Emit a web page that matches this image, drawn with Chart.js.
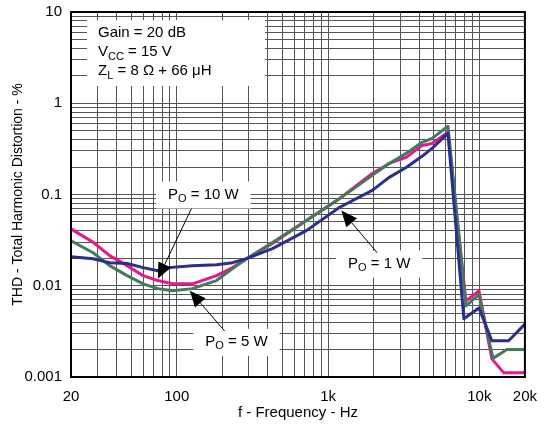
<!DOCTYPE html>
<html>
<head>
<meta charset="utf-8">
<script src="https://cdn.jsdelivr.net/npm/chart.js@4/dist/chart.umd.min.js"></script>
<style>
  html, body { margin: 0; padding: 0; background: #fff; }
  #wrap { width: 548px; height: 430px; }
</style>
</head>
<body>
<div id="wrap"><canvas id="thd"></canvas></div>
<script>
const FONT = '"Liberation Sans", Arial, Helvetica, sans-serif';

// THD (%) vs frequency (Hz), one pair of arrays per output power
const freq10W = [20, 28, 36, 47, 60, 75, 94, 127, 183, 234, 289, 429, 719, 1187, 1959, 2535, 3281, 4181, 4866, 6200, 8150, 9930, 12100, 14500, 20000];
const thd10W  = [0.042, 0.030, 0.0214, 0.0166, 0.0129, 0.0114, 0.0105, 0.0105, 0.0129, 0.0158, 0.0198, 0.029, 0.052, 0.090, 0.170, 0.219, 0.255, 0.345, 0.363, 0.48, 0.0068, 0.0088, 0.00158, 0.00111, 0.00111];

const freq5W = [20, 28, 36, 47, 60, 75, 94, 127, 183, 234, 289, 429, 719, 1187, 1959, 2535, 3281, 4181, 4866, 6200, 8150, 9930, 12300, 15200, 20000];
const thd5W  = [0.031, 0.023, 0.0166, 0.0129, 0.0105, 0.0093, 0.0088, 0.0093, 0.0114, 0.0154, 0.0198, 0.0297, 0.052, 0.090, 0.162, 0.219, 0.282, 0.373, 0.412, 0.56, 0.0060, 0.0080, 0.0016, 0.0020, 0.0020];

const freq1W = [20, 28, 36, 47, 60, 75, 88, 127, 183, 234, 289, 429, 719, 1187, 1959, 2535, 3281, 4181, 4866, 6200, 7900, 9930, 12100, 15600, 20000];
const thd1W  = [0.0208, 0.0198, 0.0179, 0.0175, 0.0158, 0.0146, 0.0158, 0.0166, 0.0170, 0.0179, 0.0198, 0.0255, 0.0402, 0.072, 0.111, 0.154, 0.198, 0.262, 0.32, 0.468, 0.00434, 0.0057, 0.0025, 0.0025, 0.0038];

const xLabelValues = [20, 100, 1000, 10000, 20000];
const xLabelText   = ['20', '100', '1k', '10k', '20k'];
const yLabelValues = [0.001, 0.01, 0.1, 1, 10];
const yLabelText   = ['0.001', '0.01', '0.1', '1', '10'];

// callouts: label position, arrow start and arrow tip, all in (Hz, %)
const callouts = [
  { power: '10 W', at: [150, 0.1],     from: [125, 0.070],  to: [75, 0.0119] },
  { power: '5 W',  at: [248, 0.00243], from: [207, 0.0032], to: [122, 0.0088] },
  { power: '1 W',  at: [2178, 0.0175], from: [2113, 0.023], to: [1223, 0.0667] }
];

const PINK = '#E8158C', GREEN = '#437A5C', BLUE = '#2A2E8C';

function points(xs, ys) {
  return xs.map((f, i) => ({ x: f, y: ys[i] }));
}

// 1..9 x 10^n grid values between min and max
function logGrid(min, max) {
  const out = [];
  for (let e = Math.floor(Math.log10(min)); e <= Math.ceil(Math.log10(max)); e++) {
    for (let k = 1; k <= 9; k++) {
      const v = Number((k * Math.pow(10, e)).toPrecision(6));
      if (v >= min * 0.999 && v <= max * 1.001) out.push(v);
    }
  }
  return out;
}

function labelFor(values, texts, v) {
  const i = values.findIndex(t => Math.abs(t - v) / t < 1e-6);
  return i < 0 ? '' : texts[i];
}

// text with subscript parts: [normal, sub, normal, ...]
function drawRich(ctx, parts, x, y, size) {
  let cx = x;
  parts.forEach((p, i) => {
    const sub = i % 2 === 1;
    ctx.font = (sub ? Math.round(size * 0.75) : size) + 'px ' + FONT;
    ctx.fillText(p, cx, sub ? y + size * 0.3 : y);
    cx += ctx.measureText(p).width;
  });
  return cx - x;
}

function richWidth(ctx, parts, size) {
  let w = 0;
  parts.forEach((p, i) => {
    ctx.font = (i % 2 === 1 ? Math.round(size * 0.75) : size) + 'px ' + FONT;
    w += ctx.measureText(p).width;
  });
  return w;
}

const notes = {
  id: 'notes',
  beforeDatasetsDraw(chart) {
    const { ctx, chartArea: a, scales: { x, y } } = chart;
    ctx.save();
    ctx.textBaseline = 'middle';
    ctx.fillStyle = '#fff';
    ctx.fillRect(a.left + 16, a.top + 8, 178, 66);
    ctx.fillStyle = '#000';
    drawRich(ctx, ['Gain = 20 dB'], a.left + 27, a.top + 21, 15);
    drawRich(ctx, ['V', 'CC', ' = 15 V'], a.left + 27, a.top + 40, 15);
    drawRich(ctx, ['Z', 'L', ' = 8 \u03A9 + 66 \u03BCH'], a.left + 27, a.top + 59, 15);

    callouts.forEach(c => {
      const parts = ['P', 'O', ' = ' + c.power];
      const w = richWidth(ctx, parts, 15);
      const cx = x.getPixelForValue(c.at[0]);
      const cy = y.getPixelForValue(c.at[1]);
      ctx.fillStyle = '#fff';
      ctx.fillRect(cx - w / 2 - 12, cy - 13, w + 24, 27);
      ctx.fillStyle = '#000';
      drawRich(ctx, parts, cx - w / 2, cy, 15);
    });
    ctx.restore();
  },
  afterDatasetsDraw(chart) {
    const { ctx, scales: { x, y } } = chart;
    ctx.save();
    ctx.strokeStyle = '#000';
    ctx.fillStyle = '#000';
    ctx.lineWidth = 1;
    callouts.forEach(c => {
      const x0 = x.getPixelForValue(c.from[0]), y0 = y.getPixelForValue(c.from[1]);
      const x1 = x.getPixelForValue(c.to[0]),   y1 = y.getPixelForValue(c.to[1]);
      const ang = Math.atan2(y1 - y0, x1 - x0);
      const len = 16, half = 7;
      const bx = x1 - len * Math.cos(ang), by = y1 - len * Math.sin(ang);
      ctx.beginPath();
      ctx.moveTo(x0, y0);
      ctx.lineTo(bx, by);
      ctx.stroke();
      ctx.beginPath();
      ctx.moveTo(x1, y1);
      ctx.lineTo(bx + half * Math.sin(ang), by - half * Math.cos(ang));
      ctx.lineTo(bx - half * Math.sin(ang), by + half * Math.cos(ang));
      ctx.closePath();
      ctx.fill();
    });
    ctx.restore();
  },
  afterDraw(chart) {
    const { ctx, chartArea: a } = chart;
    ctx.save();
    ctx.strokeStyle = '#000';
    ctx.lineWidth = 2;
    ctx.strokeRect(a.left, a.top, a.right - a.left, a.bottom - a.top);
    ctx.restore();
  }
};

const xGrid = logGrid(20, 20000);
const yGrid = logGrid(0.001, 10);

const line = (label, color, data) => ({
  label, data,
  borderColor: color,
  backgroundColor: color,
  borderWidth: 3,
  borderJoinStyle: 'round',
  pointRadius: 0,
  fill: false,
  tension: 0
});

new Chart(document.getElementById('thd'), {
  type: 'line',
  data: {
    datasets: [
      line('PO = 1 W', BLUE, points(freq1W, thd1W)),
      line('PO = 5 W', GREEN, points(freq5W, thd5W)),
      line('PO = 10 W', PINK, points(freq10W, thd10W))
    ]
  },
  options: {
    responsive: true,
    maintainAspectRatio: false,
    animation: false,
    layout: { padding: { top: 12, right: 22, left: 0, bottom: 0 } },
    plugins: { legend: { display: false }, tooltip: { enabled: false } },
    scales: {
      x: {
        type: 'logarithmic',
        min: 20,
        max: 20000,
        afterBuildTicks: s => { s.ticks = xGrid.map(v => ({ value: v })); },
        afterFit: s => { s.height = 53; },
        grid: { color: '#555', lineWidth: 1, drawTicks: false },
        border: { display: true, color: '#000', width: 2 },
        ticks: {
          autoSkip: false,
          maxRotation: 0,
          padding: 11,
          color: '#000',
          font: { family: FONT, size: 15 },
          callback: v => labelFor(xLabelValues, xLabelText, v)
        },
        title: {
          display: true,
          text: 'f - Frequency - Hz',
          color: '#000',
          font: { family: FONT, size: 15 },
          padding: { top: 0, bottom: 8 }
        }
      },
      y: {
        type: 'logarithmic',
        min: 0.001,
        max: 10,
        afterBuildTicks: s => { s.ticks = yGrid.map(v => ({ value: v })); },
        afterFit: s => { s.width = 71; s.paddingTop = 0; s.paddingBottom = 0; },
        grid: { color: '#555', lineWidth: 1, drawTicks: false },
        border: { display: true, color: '#000', width: 2 },
        ticks: {
          autoSkip: false,
          padding: 9,
          color: '#000',
          font: { family: FONT, size: 15 },
          callback: v => labelFor(yLabelValues, yLabelText, v)
        },
        title: {
          display: true,
          text: 'THD - Total Harmonic Distortion - %',
          color: '#000',
          font: { family: FONT, size: 14 },
          padding: { top: 10, bottom: 0 }
        }
      }
    }
  },
  plugins: [notes]
});
</script>
</body>
</html>
